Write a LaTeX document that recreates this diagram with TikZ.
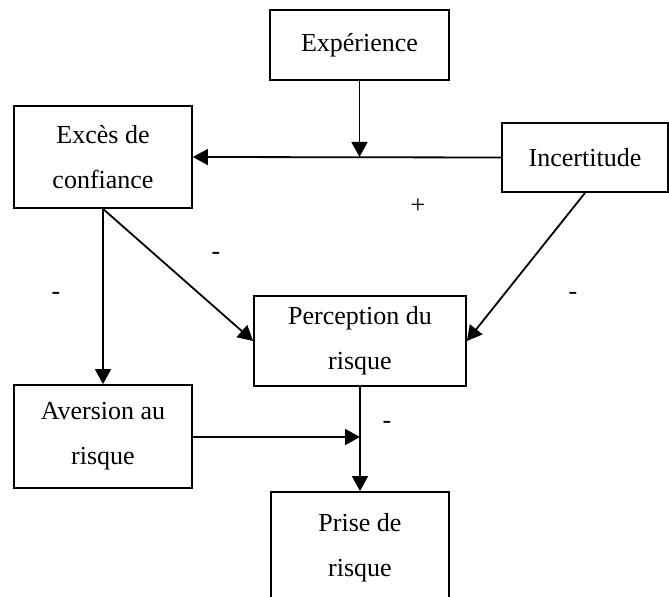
\documentclass[tikz,border=0pt]{standalone}
\usepackage{fontspec}
\setmainfont{Liberation Serif}
\usetikzlibrary{arrows.meta}
\tikzset{
  boite/.style={draw, line width=0.9pt, align=center, inner sep=0pt,
    font=\fontsize{13}{22.5}\selectfont},
  signe/.style={font=\fontsize{13}{15}\selectfont, inner sep=0pt},
  fleche/.style={line width=0.9pt, -{Triangle[length=7.5pt,width=8pt]}}
}
\begin{document}
\begin{tikzpicture}[x=0.5pt, y=-0.5pt]
    \useasboundingbox (0,0) rectangle (669,597);
    \clip (0,0) rectangle (669,597);
    \node[boite, minimum width=89.5pt, minimum height=35pt] (exp) at (359.5,45) {Expérience};
    \node[boite, minimum width=89pt, minimum height=51pt] (exc) at (103,157) {Excès de\\confiance};
    \node[boite, minimum width=83pt, minimum height=34.5pt] (inc) at (585,157.5) {Incertitude};
    \node[boite, minimum width=106pt, minimum height=45pt] (per) at (360,341) {Perception du\\risque};
    \node[boite, minimum width=89pt, minimum height=51.5pt] (ave) at (103,436.5) {Aversion au\\risque};
    \node[boite, minimum width=89pt, minimum height=56pt] (pri) at (360,548) {Prise de\\risque};
    \coordinate (j1) at (359.5,157);
    \coordinate (j2) at (360,437);
    \draw[fleche] (exp) -- (j1);
    \draw[fleche] (inc.west) -- (exc.east);
    \draw[fleche] (exc.south) -- (ave.north);
    \draw[fleche] (exc.south) -- (per.west);
    \draw[fleche] (inc.south) -- (per.east);
    \draw[fleche] (ave.east |- j2) -- (j2);
    \draw[fleche] (per) -- (pri);
    \node[signe] (plus) at (418,206) {+};
    \node[signe] (m1) at (216,256) {-};
    \node[signe] (m2) at (56,296) {-};
    \node[signe] (m3) at (573,296) {-};
    \node[signe] (m4) at (387,425) {-};
  \end{tikzpicture}
\end{document}
